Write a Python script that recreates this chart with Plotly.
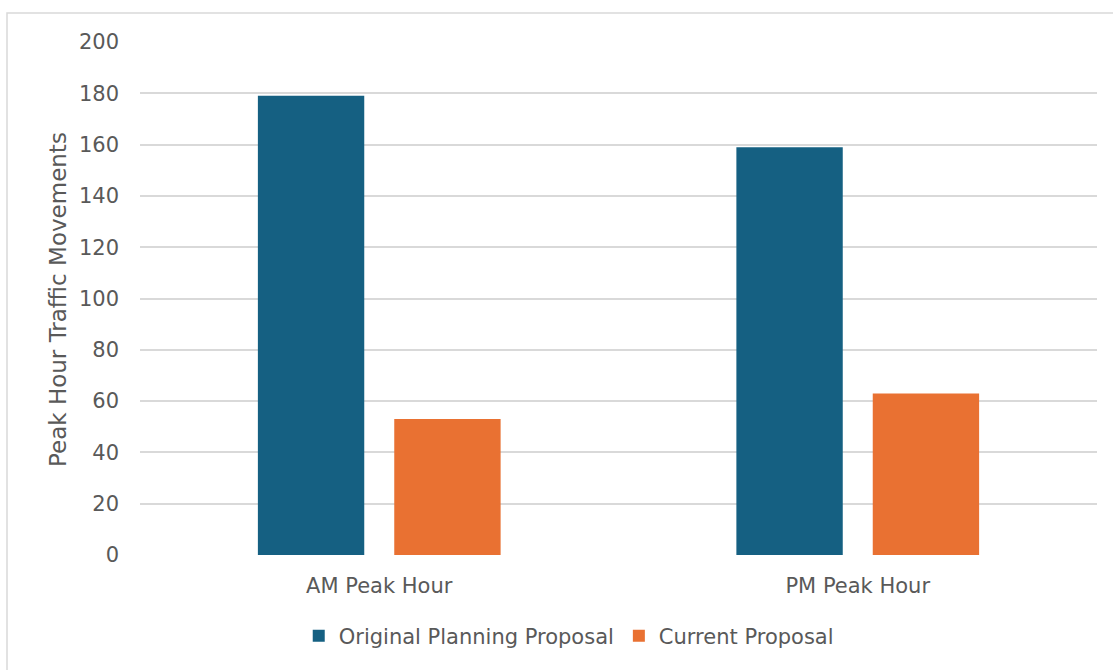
import plotly.graph_objects as go

categories = ["AM Peak Hour", "PM Peak Hour"]
original_values = [179, 159]
current_values = [53, 63]
series_names = ["Original Planning Proposal", "Current Proposal"]
y_ticks = [0, 20, 40, 60, 80, 100, 120, 140, 160, 180, 200]

L, R, T, B = 140, 16, 42, 115
W, H = 1113, 670
pw = W - L - R
ph = H - T - B

font_family = "DejaVu Sans, Verdana, sans-serif"
grey = "#595959"

fig = go.Figure()
fig.add_trace(go.Bar(x=categories, y=original_values, name=series_names[0],
                     marker=dict(color="#156082", line=dict(width=0))))
fig.add_trace(go.Bar(x=categories, y=current_values, name=series_names[1],
                     marker=dict(color="#E97132", line=dict(width=0))))

def px_x(p):
    return (p - L) / pw

def px_y(p):
    return (H - B - p) / ph

fig.update_layout(
    width=W, height=H,
    margin=dict(l=L, r=R, t=T, b=B),
    paper_bgcolor="white", plot_bgcolor="white",
    barmode="group", bargap=0.43, bargroupgap=0.22,
    font=dict(family=font_family, color=grey, size=21),
    showlegend=True,
    legend=dict(orientation="h", x=0.448, xanchor="center", y=px_y(636), yanchor="middle",
                font=dict(size=21, color=grey), traceorder="normal"),
    xaxis=dict(showgrid=False, showline=False, ticks="", tickfont=dict(size=21, color=grey),
               ticklabelstandoff=16),
    yaxis=dict(range=[0, 200], tickvals=y_ticks, showgrid=True, gridcolor="#D9D9D9",
               gridwidth=1.5, zeroline=False, showline=False, ticks="",
               tickfont=dict(size=21, color=grey), ticklabelstandoff=20),
    shapes=[dict(type="rect", xref="paper", yref="paper",
                 x0=px_x(7), x1=px_x(1120), y0=px_y(680), y1=px_y(13),
                 line=dict(color="#D9D9D9", width=1.5), fillcolor="rgba(0,0,0,0)", layer="below")],
    annotations=[dict(text="Peak Hour Traffic Movements", xref="paper", yref="paper",
                      x=px_x(58), y=px_y(300), textangle=-90, showarrow=False,
                      xanchor="center", yanchor="middle", font=dict(size=23, color=grey))],
)

fig.write_html("out.html")
